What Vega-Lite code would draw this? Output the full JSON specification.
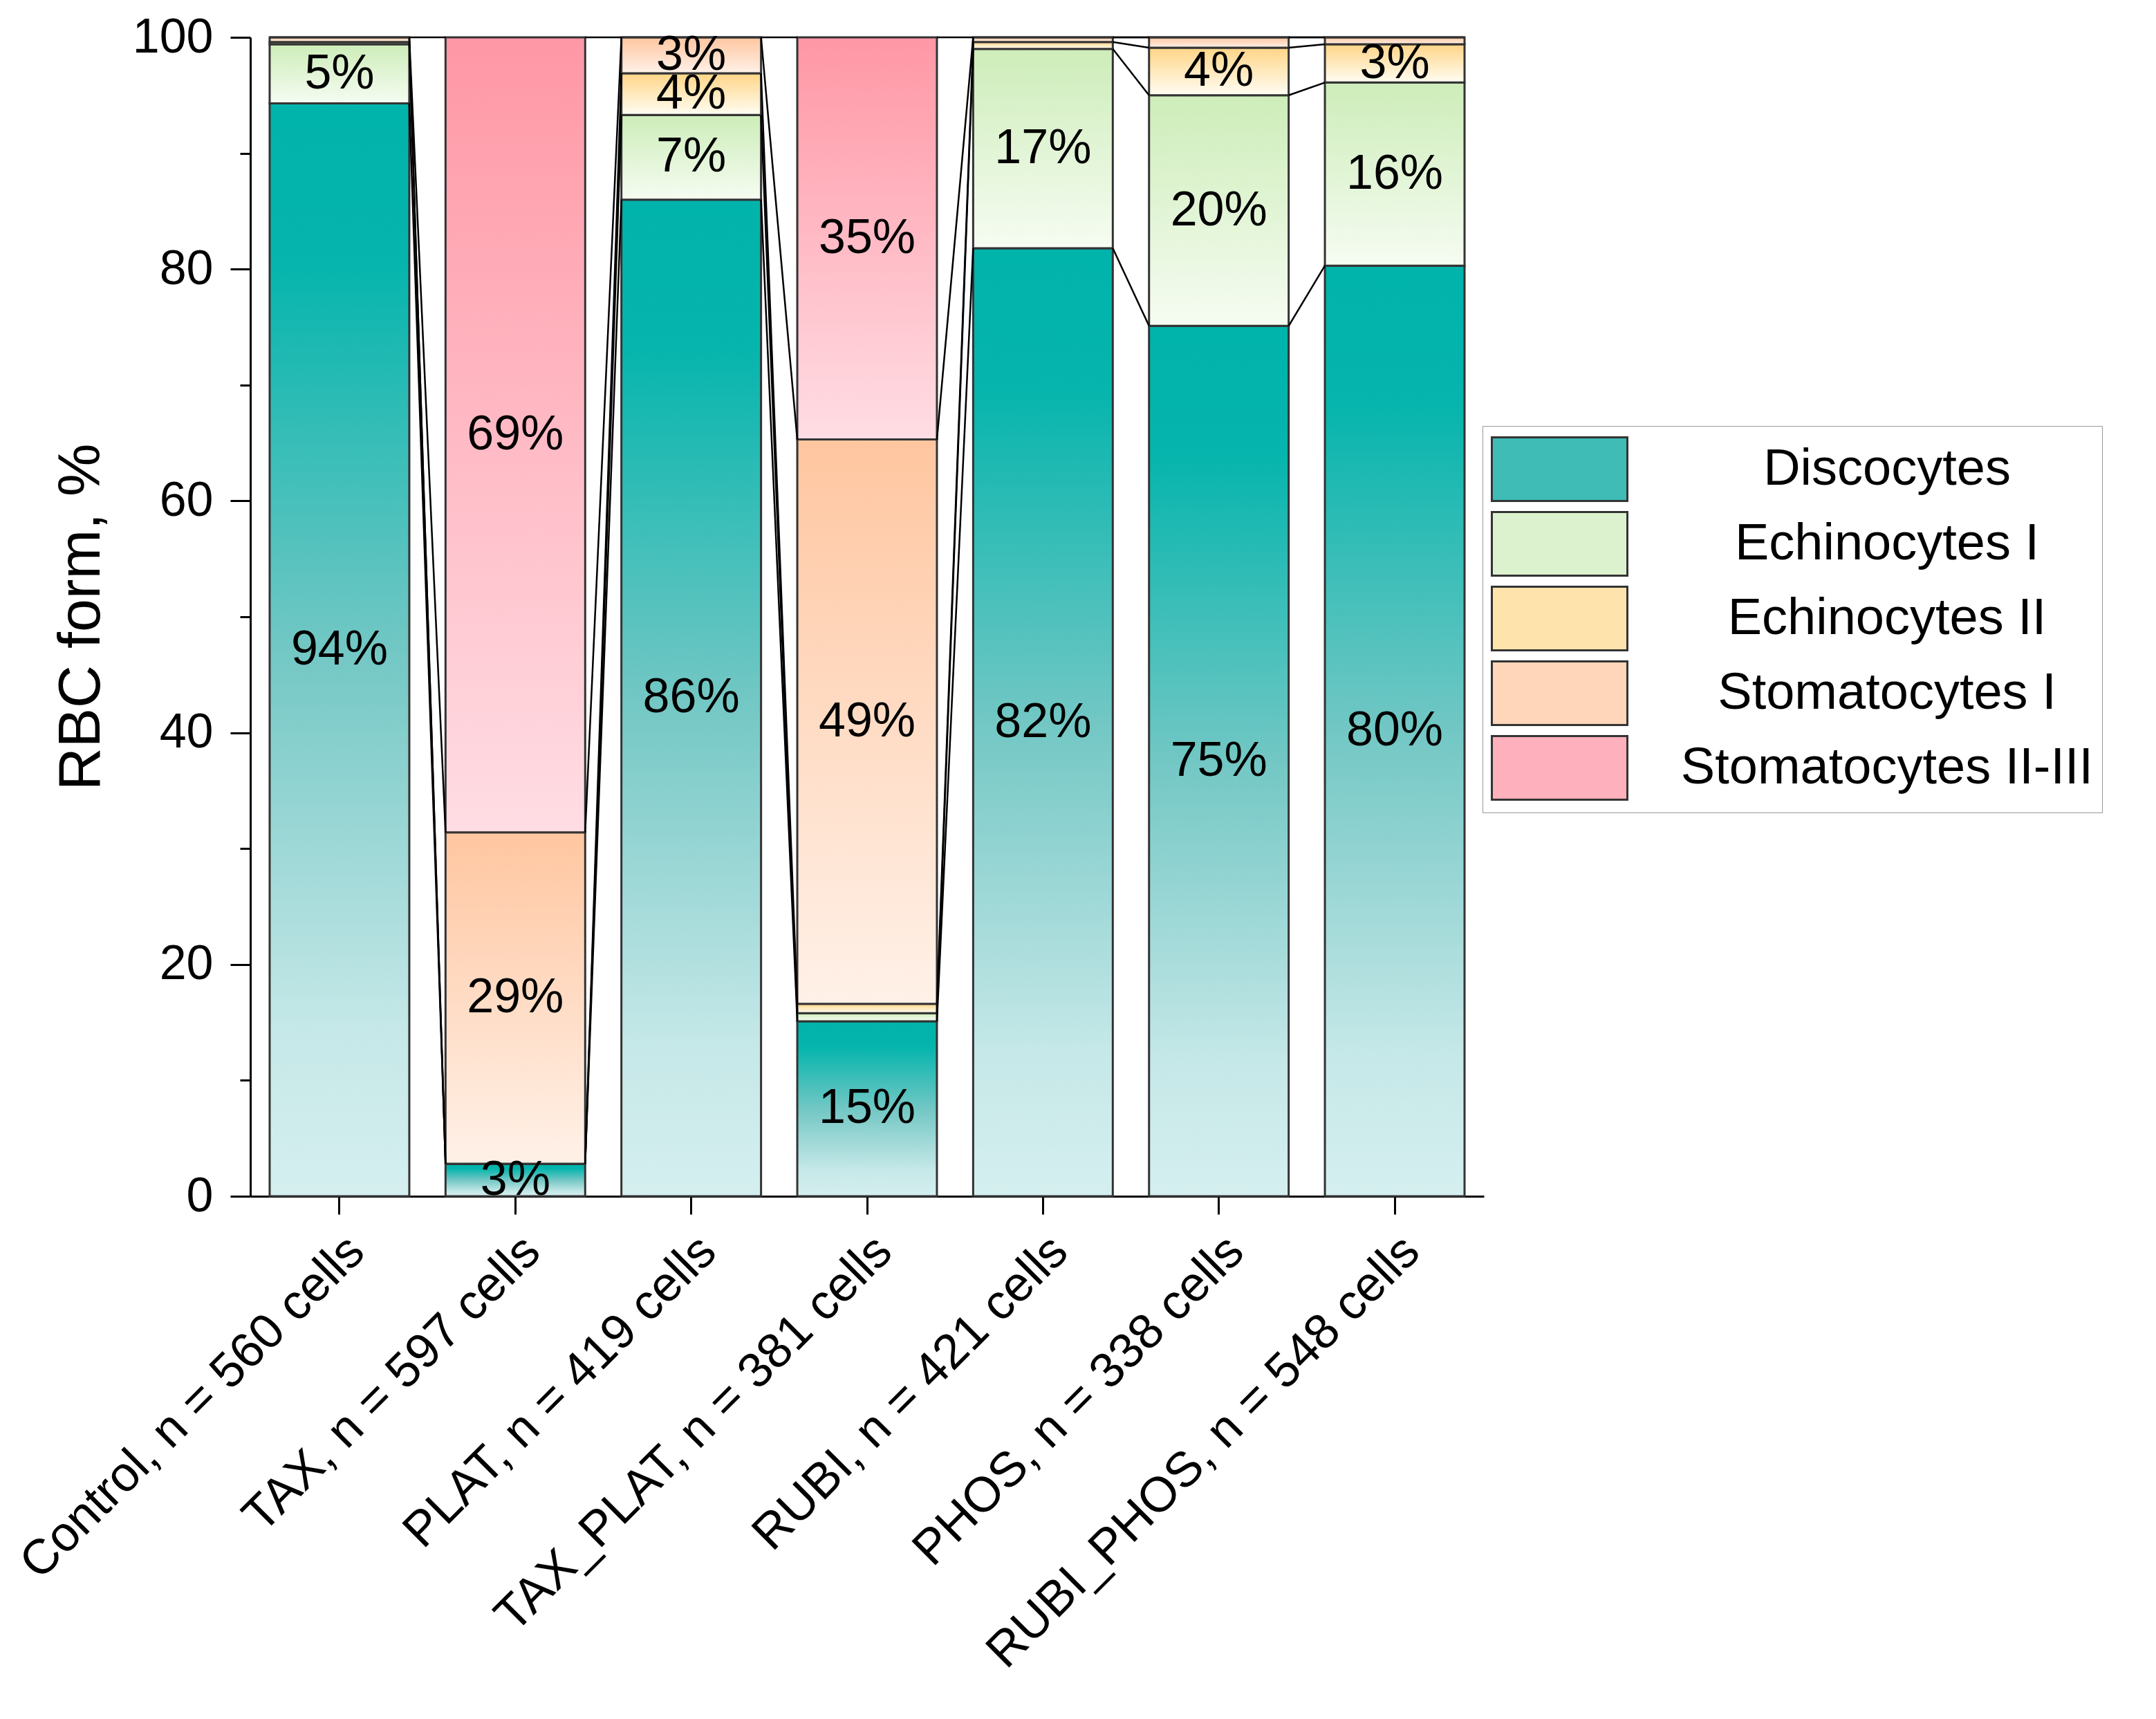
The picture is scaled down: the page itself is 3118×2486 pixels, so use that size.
{
  "$schema": "https://vega.github.io/schema/vega-lite/v6.json",
  "width": 1784,
  "height": 1676,
  "autosize": {"type": "none"},
  "padding": {"left": 362, "top": 54, "right": 972, "bottom": 756},
  "background": "white",
  "config": {
    "view": {"stroke": null},
    "font": "Liberation Sans"
  },
  "data": {
    "values": [
      {"group": "Control, n = 560 cells", "form": "Discocytes", "value": 94.3},
      {"group": "Control, n = 560 cells", "form": "Echinocytes I", "value": 5.1},
      {"group": "Control, n = 560 cells", "form": "Echinocytes II", "value": 0.2},
      {"group": "Control, n = 560 cells", "form": "Stomatocytes I", "value": 0.4},
      {"group": "Control, n = 560 cells", "form": "Stomatocytes II-III", "value": 0},
      {"group": "TAX, n = 597 cells", "form": "Discocytes", "value": 2.8},
      {"group": "TAX, n = 597 cells", "form": "Echinocytes I", "value": 0},
      {"group": "TAX, n = 597 cells", "form": "Echinocytes II", "value": 0},
      {"group": "TAX, n = 597 cells", "form": "Stomatocytes I", "value": 28.6},
      {"group": "TAX, n = 597 cells", "form": "Stomatocytes II-III", "value": 68.6},
      {"group": "PLAT, n = 419 cells", "form": "Discocytes", "value": 86.0},
      {"group": "PLAT, n = 419 cells", "form": "Echinocytes I", "value": 7.3},
      {"group": "PLAT, n = 419 cells", "form": "Echinocytes II", "value": 3.6},
      {"group": "PLAT, n = 419 cells", "form": "Stomatocytes I", "value": 3.1},
      {"group": "PLAT, n = 419 cells", "form": "Stomatocytes II-III", "value": 0},
      {"group": "TAX_PLAT, n = 381 cells", "form": "Discocytes", "value": 15.1},
      {"group": "TAX_PLAT, n = 381 cells", "form": "Echinocytes I", "value": 0.7},
      {"group": "TAX_PLAT, n = 381 cells", "form": "Echinocytes II", "value": 0.8},
      {"group": "TAX_PLAT, n = 381 cells", "form": "Stomatocytes I", "value": 48.7},
      {"group": "TAX_PLAT, n = 381 cells", "form": "Stomatocytes II-III", "value": 34.7},
      {"group": "RUBI, n = 421 cells", "form": "Discocytes", "value": 81.8},
      {"group": "RUBI, n = 421 cells", "form": "Echinocytes I", "value": 17.2},
      {"group": "RUBI, n = 421 cells", "form": "Echinocytes II", "value": 0.6},
      {"group": "RUBI, n = 421 cells", "form": "Stomatocytes I", "value": 0.4},
      {"group": "RUBI, n = 421 cells", "form": "Stomatocytes II-III", "value": 0},
      {"group": "PHOS, n = 338 cells", "form": "Discocytes", "value": 75.1},
      {"group": "PHOS, n = 338 cells", "form": "Echinocytes I", "value": 19.9},
      {"group": "PHOS, n = 338 cells", "form": "Echinocytes II", "value": 4.1},
      {"group": "PHOS, n = 338 cells", "form": "Stomatocytes I", "value": 0.9},
      {"group": "PHOS, n = 338 cells", "form": "Stomatocytes II-III", "value": 0},
      {"group": "RUBI_PHOS, n = 548 cells", "form": "Discocytes", "value": 80.3},
      {"group": "RUBI_PHOS, n = 548 cells", "form": "Echinocytes I", "value": 15.8},
      {"group": "RUBI_PHOS, n = 548 cells", "form": "Echinocytes II", "value": 3.3},
      {"group": "RUBI_PHOS, n = 548 cells", "form": "Stomatocytes I", "value": 0.6},
      {"group": "RUBI_PHOS, n = 548 cells", "form": "Stomatocytes II-III", "value": 0}
    ]
  },
  "transform": [
    {"stack": "value", "groupby": ["group"], "sort": [{"field": "form", "order": "ascending"}], "as": ["y0", "y1"]},
    {"window": [{"op": "lead", "field": "y1", "as": "ny"}, {"op": "lead", "field": "group", "as": "ng"}], "groupby": ["form"]},
    {"calculate": "(datum.y0 + datum.y1) / 2", "as": "mid"},
    {"calculate": "format(datum.value, '.0f') + '%'", "as": "label"}
  ],
  "encoding": {
    "x": {
      "field": "group",
      "type": "nominal",
      "scale": {
        "domain": ["Control, n = 560 cells", "TAX, n = 597 cells", "PLAT, n = 419 cells", "TAX_PLAT, n = 381 cells", "RUBI, n = 421 cells", "PHOS, n = 338 cells", "RUBI_PHOS, n = 548 cells"],
        "paddingInner": 0.206,
        "paddingOuter": 0.11
      },
      "axis": {
        "title": null,
        "labelAngle": -45,
        "labelAlign": "right",
        "labelBaseline": "top",
        "labelFontSize": 71,
        "labelColor": "black",
        "labelPadding": 18,
        "labelLimit": 1400,
        "domainColor": "black",
        "domainWidth": 3,
        "tickColor": "black",
        "tickWidth": 3,
        "tickSize": 26
      }
    },
    "y": {
      "field": "y0",
      "type": "quantitative",
      "scale": {"domain": [0, 100], "nice": false},
      "axis": {
        "title": "RBC form, %",
        "titleFontSize": 86,
        "titleFontWeight": "normal",
        "titleColor": "black",
        "titlePadding": 30,
        "values": [0, 10, 20, 30, 40, 50, 60, 70, 80, 90, 100],
        "labelExpr": "datum.value % 20 === 0 ? datum.label : ''",
        "labelFontSize": 70,
        "labelColor": "black",
        "labelPadding": 25,
        "grid": false,
        "domainColor": "black",
        "domainWidth": 3,
        "tickColor": "black",
        "tickWidth": 3,
        "tickSize": {"condition": {"test": "datum.value % 20 === 0", "value": 29}, "value": 15}
      }
    }
  },
  "layer": [
    {
      "mark": {"type": "bar", "stroke": "#333333", "strokeWidth": 3},
      "encoding": {
        "y2": {"field": "y1"},
        "fill": {
          "condition": [
            {"test": "datum.form === 'Discocytes'", "value": {"gradient": "linear", "x1": 0, "y1": 0, "x2": 0, "y2": 1, "stops": [{"offset": 0, "color": "#00b3ab"}, {"offset": 0.15, "color": "#06b5ad"}, {"offset": 0.5, "color": "#72c7c4"}, {"offset": 0.85, "color": "#c6e8e8"}, {"offset": 1, "color": "#d5efef"}]}},
            {"test": "datum.form === 'Echinocytes I'", "value": {"gradient": "linear", "x1": 0, "y1": 0, "x2": 0, "y2": 1, "stops": [{"offset": 0, "color": "#cdedb9"}, {"offset": 1, "color": "#f6fcf2"}]}},
            {"test": "datum.form === 'Echinocytes II'", "value": {"gradient": "linear", "x1": 0, "y1": 0, "x2": 0, "y2": 1, "stops": [{"offset": 0, "color": "#ffd587"}, {"offset": 1, "color": "#fffdf3"}]}},
            {"test": "datum.form === 'Stomatocytes I'", "value": {"gradient": "linear", "x1": 0, "y1": 0, "x2": 0, "y2": 1, "stops": [{"offset": 0, "color": "#ffc6a0"}, {"offset": 1, "color": "#fff1e8"}]}}
          ],
          "value": {"gradient": "linear", "x1": 0, "y1": 0, "x2": 0, "y2": 1, "stops": [{"offset": 0, "color": "#ff97a5"}, {"offset": 1, "color": "#ffdde4"}]}
        }
      }
    },
    {
      "transform": [{"filter": "false"}],
      "mark": {"type": "bar"},
      "encoding": {
        "color": {
          "field": "form",
          "type": "nominal",
          "scale": {
            "domain": ["Discocytes", "Echinocytes I", "Echinocytes II", "Stomatocytes I", "Stomatocytes II-III"],
            "range": ["#3fbcb6", "#dcf2cf", "#ffe3ad", "#ffd6ba", "#ffb0bc"]
          },
          "legend": {
            "orient": "none",
            "legendX": 1782,
            "legendY": 562,
            "title": null,
            "symbolType": "M-1,-0.94H3V0.94H-1Z",
            "symbolSize": 9604,
            "symbolStrokeColor": "#333333",
            "symbolStrokeWidth": 3,
            "symbolOpacity": 1,
            "labelFontSize": 74,
            "labelColor": "black",
            "labelAlign": "center",
            "labelOffset": 472,
            "labelLimit": 1000,
            "rowPadding": 3,
            "padding": 12,
            "strokeColor": "#999999",
            "fillColor": "white"
          }
        }
      }
    },
    {
      "transform": [{"filter": "datum.ng != null"}],
      "mark": {"type": "rule", "color": "black", "strokeWidth": 2.5},
      "encoding": {
        "x": {"field": "group", "type": "nominal", "bandPosition": 1},
        "x2": {"field": "ng", "bandPosition": 0},
        "y": {"field": "y1", "type": "quantitative"},
        "y2": {"field": "ny"}
      }
    },
    {
      "transform": [{"filter": "datum.value >= 2.5"}],
      "mark": {"type": "text", "fontSize": 70, "color": "black", "baseline": "middle", "align": "center"},
      "encoding": {
        "y": {"field": "mid", "type": "quantitative"},
        "text": {"field": "label"}
      }
    }
  ]
}
